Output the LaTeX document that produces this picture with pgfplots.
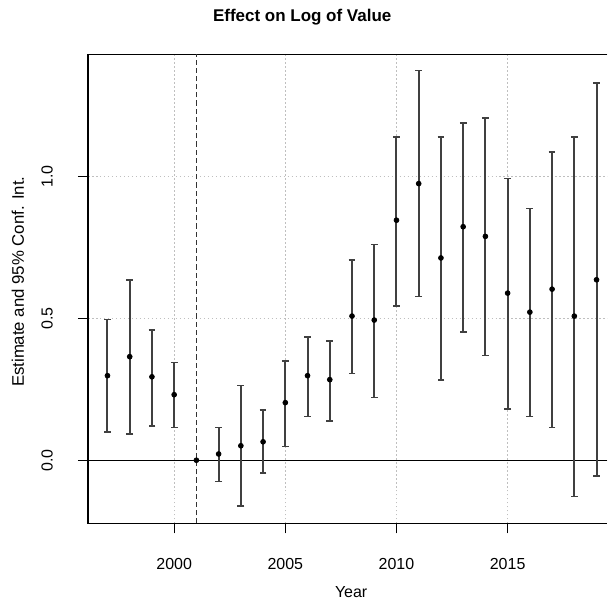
\documentclass[border=0pt]{standalone}
\usepackage{fontspec}
\setmainfont{Liberation Sans}
\usepackage{pgfplots}
\pgfplotsset{compat=1.18}
\usepackage{pgfplotstable}

% Event-study estimates with 95% confidence bounds (reference year 2001 omitted)
\pgfplotstableread{
year est lo hi
1997 0.298 0.100 0.496
1998 0.365 0.092 0.635
1999 0.294 0.120 0.458
2000 0.231 0.115 0.344
2002 0.022 -0.075 0.115
2003 0.051 -0.162 0.263
2004 0.065 -0.046 0.176
2005 0.203 0.049 0.350
2006 0.298 0.154 0.434
2007 0.284 0.139 0.420
2008 0.508 0.305 0.706
2009 0.494 0.221 0.760
2010 0.846 0.544 1.140
2011 0.975 0.577 1.373
2012 0.713 0.282 1.140
2013 0.823 0.453 1.189
2014 0.789 0.369 1.207
2015 0.589 0.181 0.993
2016 0.522 0.154 0.887
2017 0.603 0.115 1.087
2018 0.508 -0.128 1.140
2019 0.636 -0.056 1.330
}\effects

\begin{document}
\begin{tikzpicture}
% full canvas
\path (-44pt,-40.5pt) rectangle (260pt,262pt);
\begin{axis}[
  at={(0,0)}, anchor=south west,
  scale only axis, width=260pt, height=234.75pt,
  xmin=1996.12, xmax=2019.488, ymin=-0.2229, ymax=1.4303,
  axis line style={draw=none},
  xtick={2000,2005,2010,2015}, xticklabels={2000,2005,2010,2015},
  ytick={0,0.5,1}, yticklabels={0.0,0.5,1.0},
  tick pos=left, tick align=outside, major tick length=5pt,
  tick style={black, line width=0.5pt},
  grid=major,
  major grid style={black!25, line width=0.5pt, dash pattern=on 0.8pt off 1.2pt},
  ticklabel style={font=\fontsize{8}{9.6}\selectfont},
  xticklabel style={anchor=north, inner sep=0pt, yshift=-12.25pt},
  yticklabel style={xshift=-12.35pt, rotate=90, anchor=south, inner sep=0pt},
  clip=false,
]
% plot frame (open on the right)
\draw[black, line width=0.6pt]
  (axis cs:2019.488,1.4303) -- (axis cs:1996.12,1.4303)
  -- (axis cs:1996.12,-0.2229) -- (axis cs:2019.488,-0.2229);
\addplot[black, line width=0.6pt] coordinates {(1996.12,0) (2019.488,0)};
\addplot[black!80, line width=0.8pt, dash pattern=on 2.6pt off 1.5pt]
  coordinates {(2001,-0.2229) (2001,1.4303)};
\addplot[black, only marks, mark=*, mark size=1.2pt,
  error bars/.cd, y dir=both, y explicit,
  error bar style={line width=1pt, black!75},
  error mark options={rotate=90, line width=0.8pt, black!75, mark size=1.7pt}]
  table[x=year, y=est,
        y error plus expr=\thisrow{hi}-\thisrow{est},
        y error minus expr=\thisrow{est}-\thisrow{lo}] {\effects};
\addplot[black, only marks, mark=*, mark size=1.2pt] coordinates {(2001,0)};
\end{axis}
\node at (107.25pt,253.5pt) {\fontsize{8.5}{10}\selectfont\bfseries Effect on Log of Value};
\node[rotate=90] at (-35pt,121pt) {\fontsize{8.4}{10}\selectfont Estimate and 95\% Conf. Int.};
\node at (131.75pt,-34.5pt) {\fontsize{8}{9.6}\selectfont Year};
\end{tikzpicture}
\end{document}
